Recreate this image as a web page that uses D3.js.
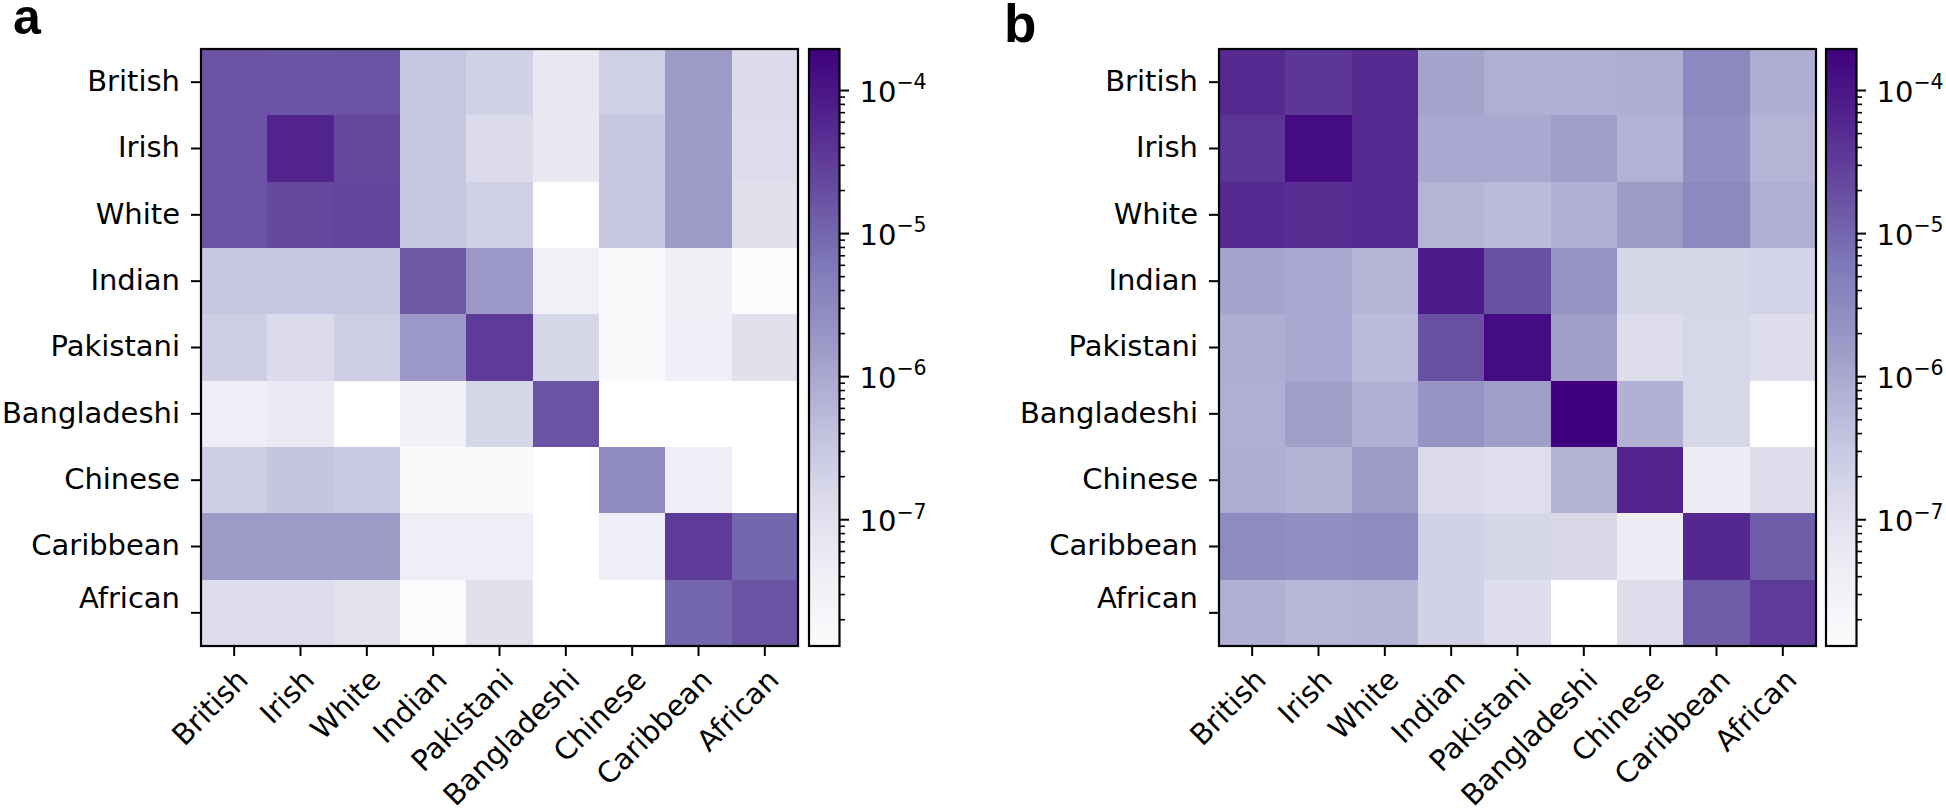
<!DOCTYPE html>
<html><head><meta charset="utf-8">
<script src="https://cdn.jsdelivr.net/npm/d3@7"></script>
<style>body{margin:0;background:#fff} svg{display:block}</style>
</head><body>
<svg id="chart" width="1946" height="811"></svg>
<script>
const categories = ["British","Irish","White","Indian","Pakistani","Bangladeshi","Chinese","Caribbean","African"];

// panel a (0 = no value, drawn white)
const valuesA = [
  [1.7e-5, 1.6e-5, 1.65e-5, 3.3e-7, 2.0e-7, 6.1e-8, 2.2e-7, 1.6e-6, 1.35e-7],
  [1.7e-5, 6.7e-5, 2.3e-5, 3.3e-7, 1.35e-7, 6.3e-8, 3.1e-7, 1.6e-6, 1.3e-7],
  [1.7e-5, 2.2e-5, 2.5e-5, 3.2e-7, 2.2e-7, 0, 3.1e-7, 1.6e-6, 9.5e-8],
  [3.3e-7, 3.3e-7, 3.2e-7, 1.36e-5, 1.7e-6, 3.3e-8, 1.7e-8, 3.6e-8, 1.45e-8],
  [2.3e-7, 1.35e-7, 2.3e-7, 1.7e-6, 3.3e-5, 1.7e-7, 1.7e-8, 3.9e-8, 9.5e-8],
  [4.4e-8, 5.5e-8, 0, 3.1e-8, 1.7e-7, 1.7e-5, 0, 0, 0],
  [2.3e-7, 3.4e-7, 2.8e-7, 1.6e-8, 1.6e-8, 0, 2.9e-6, 4.2e-8, 0],
  [1.6e-6, 1.6e-6, 1.6e-6, 4.2e-8, 4.2e-8, 0, 4.2e-8, 3.3e-5, 1.0e-5],
  [1.25e-7, 1.25e-7, 8.6e-8, 1.45e-8, 9.5e-8, 0, 0, 1.0e-5, 1.65e-5]
];

// panel b
const valuesB = [
  [5.5e-5, 3.7e-5, 5.5e-5, 1.15e-6, 8.0e-7, 7.4e-7, 8.2e-7, 3.2e-6, 8.2e-7],
  [3.8e-5, 1.4e-4, 5.3e-5, 1.0e-6, 9.8e-7, 1.4e-6, 6.9e-7, 2.65e-6, 6.4e-7],
  [5.3e-5, 4.9e-5, 5.3e-5, 6.4e-7, 5.2e-7, 8.0e-7, 1.6e-6, 3.2e-6, 8.0e-7],
  [1.15e-6, 9.8e-7, 6.3e-7, 8.1e-5, 1.8e-5, 2.0e-6, 1.7e-7, 1.7e-7, 1.9e-7],
  [8.2e-7, 9.8e-7, 5.2e-7, 1.8e-5, 1.4e-4, 1.4e-6, 1.2e-7, 1.6e-7, 1.2e-7],
  [7.7e-7, 1.4e-6, 7.7e-7, 2.1e-6, 1.4e-6, 1.9e-4, 7.1e-7, 1.6e-7, 0],
  [8.2e-7, 6.7e-7, 1.6e-6, 1.4e-7, 1.1e-7, 6.7e-7, 6.7e-5, 4.6e-8, 1.2e-7],
  [2.9e-6, 2.65e-6, 2.9e-6, 2.0e-7, 1.7e-7, 1.5e-7, 4.6e-8, 5.6e-5, 1.25e-5],
  [7.7e-7, 5.9e-7, 6.3e-7, 2.0e-7, 1.2e-7, 0, 1.2e-7, 1.25e-5, 3.3e-5]
];

const colorDomain = [1.3e-8, 1.935e-4];
const colorbarTicks = [1e-7, 1e-6, 1e-5, 1e-4];
const panelLabels = ["a", "b"];
const purples = ["#fcfbfd","#efedf5","#dadaeb","#bcbddc","#9e9ac8","#807dba","#6a51a3","#54278f","#3f007d"];

const svg = d3.select("#chart");
const FONT = "'DejaVu Sans', sans-serif";
const FS = 29;
const logNorm = d3.scaleLog().domain(colorDomain).range([0, 1]).clamp(true);
const cmap = d3.scaleLinear().domain(d3.range(purples.length).map(i => i / (purples.length - 1)))
  .range(purples).interpolate(d3.interpolateRgb);
const color = v => v > 0 ? cmap(logNorm(v)) : "#ffffff";

const plotTop = 49, plotSize = 597, cbW = 30.5, tickLen = 10, minorLen = 5.5;
const panels = [
  {label: panelLabels[0], values: valuesA, left: 201, cbLeft: 809, lx: 13, ly: 34, lsize: 50},
  {label: panelLabels[1], values: valuesB, left: 1219, cbLeft: 1826, lx: 1004, ly: 42, lsize: 53}
];

// gradient
const defs = svg.append("defs");
const grad = defs.append("linearGradient").attr("id", "cbgrad")
  .attr("x1", 0).attr("y1", 1).attr("x2", 0).attr("y2", 0);
d3.range(0, 1.0001, 1 / 64).forEach(t => {
  grad.append("stop").attr("offset", t).attr("stop-color", cmap(t));
});

const minorTicks = [];
for (let e = -9; e <= -3; e++) for (let m = 2; m <= 9; m++) {
  const v = m * Math.pow(10, e);
  if (v >= colorDomain[0] && v <= colorDomain[1]) minorTicks.push(v);
}

panels.forEach(p => {
  const g = svg.append("g");
  const x = d3.scaleBand().domain(categories).range([p.left, p.left + plotSize]);
  const y = d3.scaleBand().domain(categories).range([plotTop, plotTop + plotSize]);

  const cells = [];
  p.values.forEach((row, i) => row.forEach((v, j) => cells.push({r: categories[i], c: categories[j], v})));
  g.append("g").selectAll("rect").data(cells).join("rect")
    .attr("x", d => x(d.c)).attr("y", d => y(d.r))
    .attr("width", x.bandwidth() + 0.6).attr("height", y.bandwidth() + 0.6)
    .attr("fill", d => color(d.v))
    .attr("shape-rendering", "crispEdges");

  // y axis
  const ya = g.append("g").attr("transform", `translate(${p.left},0)`)
    .call(d3.axisLeft(y).tickSize(tickLen).tickPadding(11));
  ya.select(".domain").remove();
  ya.selectAll(".tick line").attr("stroke", "#000").attr("stroke-width", 2);
  ya.selectAll(".tick text").attr("font-family", FONT).attr("font-size", FS).attr("fill", "#000")
    .attr("dy", "0.3em")
    .attr("transform", (d, i) => i === categories.length - 1 ? "translate(0,-14)" : null);

  // x axis
  const xa = g.append("g").attr("transform", `translate(0,${plotTop + plotSize})`)
    .call(d3.axisBottom(x).tickSize(tickLen));
  xa.select(".domain").remove();
  xa.selectAll(".tick line").attr("stroke", "#000").attr("stroke-width", 2);
  xa.selectAll(".tick text").attr("font-family", FONT).attr("font-size", FS).attr("fill", "#000")
    .attr("y", 0).attr("dy", "0.76em")
    .attr("transform", `translate(0,${tickLen + 10}) rotate(-45)`)
    .style("text-anchor", "end");

  // frame
  g.append("rect").attr("x", p.left).attr("y", plotTop).attr("width", plotSize).attr("height", plotSize)
    .attr("fill", "none").attr("stroke", "#000").attr("stroke-width", 2.2);

  // colorbar
  const cb = svg.append("g");
  cb.append("rect").attr("x", p.cbLeft).attr("y", plotTop).attr("width", cbW).attr("height", plotSize)
    .attr("fill", "url(#cbgrad)");
  const cy = d3.scaleLog().domain(colorDomain).range([plotTop + plotSize, plotTop]);
  const cbRight = p.cbLeft + cbW;
  const minor = cb.append("g").attr("transform", `translate(${cbRight},0)`)
    .call(d3.axisRight(cy).tickValues(minorTicks).tickSize(minorLen).tickFormat(""));
  minor.select(".domain").remove();
  minor.selectAll(".tick line").attr("stroke", "#000").attr("stroke-width", 1.6);
  const major = cb.append("g").attr("transform", `translate(${cbRight},0)`)
    .call(d3.axisRight(cy).tickValues(colorbarTicks).tickSize(tickLen - 0.5).tickFormat(""));
  major.select(".domain").remove();
  major.selectAll(".tick line").attr("stroke", "#000").attr("stroke-width", 2);
  major.selectAll(".tick").each(function(d) {
    const t = d3.select(this).append("text")
      .attr("x", 20).attr("y", 11.5)
      .attr("font-family", FONT).attr("font-size", FS).attr("fill", "#000");
    t.append("tspan").text("10");
    t.append("tspan").attr("font-size", 20.5).attr("dy", -12.7)
      .text("\u2212" + Math.abs(Math.round(Math.log10(d))));
  });
  cb.append("rect").attr("x", p.cbLeft).attr("y", plotTop).attr("width", cbW).attr("height", plotSize)
    .attr("fill", "none").attr("stroke", "#000").attr("stroke-width", 2.2);

  // panel letter
  svg.append("text").attr("x", p.lx).attr("y", p.ly)
    .attr("font-family", "'Liberation Sans', Arial, sans-serif").attr("font-weight", "bold")
    .attr("font-size", p.lsize).attr("fill", "#000").text(p.label);
});
</script>
</body></html>
